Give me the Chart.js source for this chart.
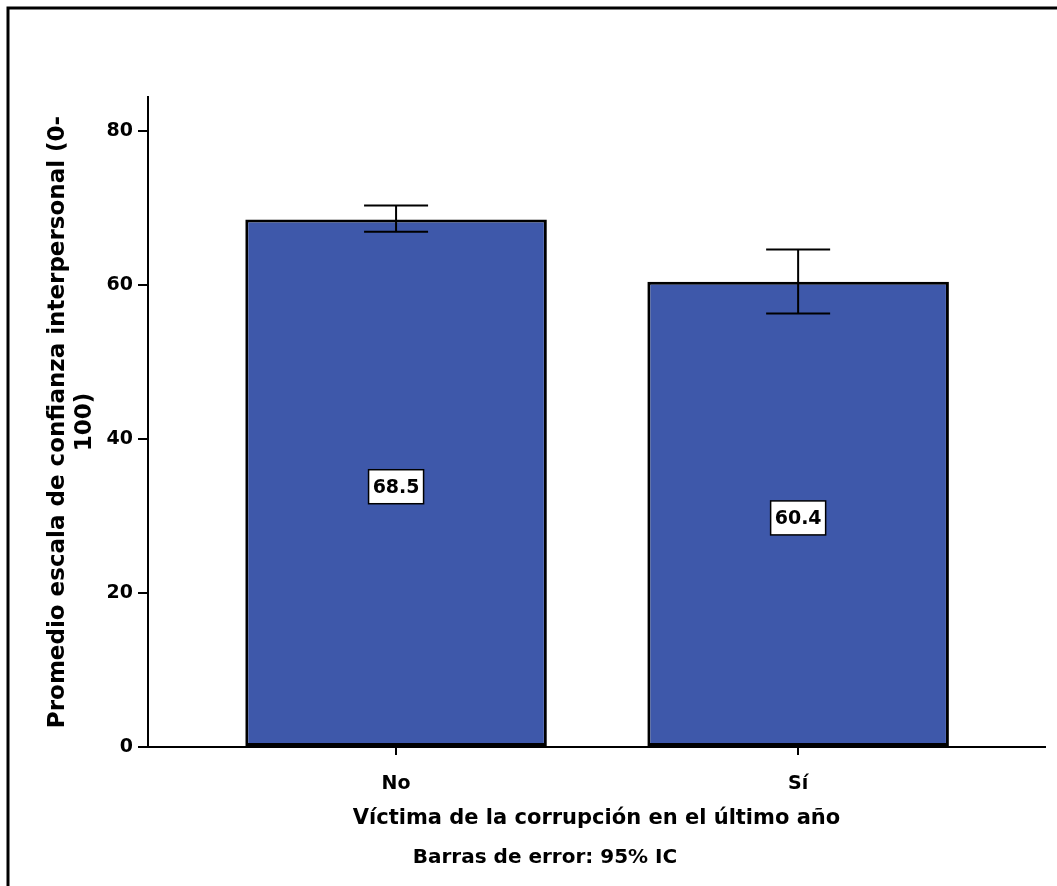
<!DOCTYPE html>
<html>
<head>
<meta charset="utf-8">
<script src="https://cdn.jsdelivr.net/npm/chart.js@4"></script>
<style>
  body { margin: 0; background: #fff; }
</style>
</head>
<body>
<canvas id="bar-chart" width="1057" height="886"></canvas>
<script>
var categories = ["No", "Sí"];
var means = [68.5, 60.4];
var ciLow = [66.9, 56.3];
var ciHigh = [70.3, 64.6];
var yTicks = [0, 20, 40, 60, 80];
var yTitle = ["Promedio escala de confianza interpersonal (0-", "100)"];
var xTitle = "Víctima de la corrupción en el último año";
var note = "Barras de error: 95% IC";

Chart.defaults.font.family = "'DejaVu Sans', sans-serif";
Chart.defaults.font.weight = "bold";
Chart.defaults.color = "#000";

// frame round the picture (only left and top edges show)
var framePlugin = {
  id: "frame",
  beforeDraw: function (chart) {
    var ctx = chart.ctx;
    ctx.save();
    ctx.fillStyle = "#fff";
    ctx.fillRect(0, 0, chart.width, chart.height);
    ctx.strokeStyle = "#000";
    ctx.lineWidth = 3;
    ctx.beginPath();
    ctx.moveTo(8, chart.height + 5);
    ctx.lineTo(8, 8);
    ctx.lineTo(chart.width + 5, 8);
    ctx.stroke();
    ctx.restore();
  },
  afterDraw: function (chart) {
    var ctx = chart.ctx;
    ctx.save();
    ctx.font = "bold 20px 'DejaVu Sans'";
    ctx.fillStyle = "#000";
    ctx.textAlign = "center";
    ctx.textBaseline = "middle";
    ctx.fillText(note, 545, 858);
    ctx.restore();
  }
};

var errorBarPlugin = {
  id: "errorBars",
  afterDatasetsDraw: function (chart) {
    var ctx = chart.ctx;
    var y = chart.scales.y;
    var meta = chart.getDatasetMeta(0);
    ctx.save();
    ctx.strokeStyle = "#000";
    ctx.lineWidth = 2;
    meta.data.forEach(function (bar, i) {
      var top = y.getPixelForValue(ciHigh[i]);
      var bot = y.getPixelForValue(ciLow[i]);
      var half = 32;
      ctx.beginPath();
      ctx.moveTo(bar.x, top);
      ctx.lineTo(bar.x, bot);
      ctx.moveTo(bar.x - half, top);
      ctx.lineTo(bar.x + half, top);
      ctx.moveTo(bar.x - half, bot);
      ctx.lineTo(bar.x + half, bot);
      ctx.stroke();
    });
    // value boxes
    meta.data.forEach(function (bar, i) {
      var cy = (bar.y + bar.base) / 2 + 4;
      var w = 55, h = 34;
      ctx.fillStyle = "#fff";
      ctx.fillRect(bar.x - w / 2, cy - h / 2, w, h);
      ctx.lineWidth = 1.5;
      ctx.strokeRect(bar.x - w / 2, cy - h / 2, w, h);
      ctx.fillStyle = "#000";
      ctx.font = "bold 19px 'DejaVu Sans'";
      ctx.textAlign = "center";
      ctx.textBaseline = "middle";
      ctx.fillText(means[i].toFixed(1), bar.x, cy + 1);
    });
    ctx.restore();
  }
};

new Chart(document.getElementById("bar-chart"), {
  type: "bar",
  data: {
    datasets: [
      {
        data: means.map(function (m, i) { return { x: i + 1, y: m }; }),
        backgroundColor: "#3e58aa",
        borderColor: "#000",
        borderWidth: 3,
        borderSkipped: false,
        barPercentage: 0.75,
        categoryPercentage: 1
      }
    ]
  },
  options: {
    responsive: false,
    animation: false,
    layout: { padding: { top: 97, right: 12, left: 0, bottom: 0 } },
    plugins: {
      legend: { display: false },
      tooltip: { enabled: false }
    },
    scales: {
      x: {
        type: "linear",
        offset: false,
        min: 0.383,
        max: 2.614,
        afterBuildTicks: function (scale) {
          scale.ticks = categories.map(function (c, i) { return { value: i + 1 }; });
        },
        afterFit: function (scale) { scale.height = 139; },
        ticks: {
          font: { size: 19, weight: "bold" },
          padding: 18,
          maxRotation: 0,
          callback: function (v) { return categories[v - 1]; }
        },
        grid: { offset: false, drawOnChartArea: false, tickLength: 8, color: "#000", lineWidth: 2 },
        border: { color: "#000", width: 2 },
        title: {
          display: true,
          text: xTitle,
          font: { size: 21, weight: "bold" },
          padding: { top: 0, bottom: 55 }
        }
      },
      y: {
        min: 0,
        max: 84.4,
        afterBuildTicks: function (scale) {
          scale.ticks = yTicks.map(function (v) { return { value: v }; });
        },
        afterFit: function (scale) { scale.width = 148; },
        ticks: {
          font: { size: 19, weight: "bold" },
          padding: 5
        },
        grid: { drawOnChartArea: false, tickLength: 10, color: "#000", lineWidth: 2 },
        border: { color: "#000", width: 2 },
        title: {
          display: true,
          text: yTitle,
          font: { size: 23, weight: "bold" },
          padding: { top: 44, bottom: 0 }
        }
      }
    }
  },
  plugins: [framePlugin, errorBarPlugin]
});
</script>
</body>
</html>
